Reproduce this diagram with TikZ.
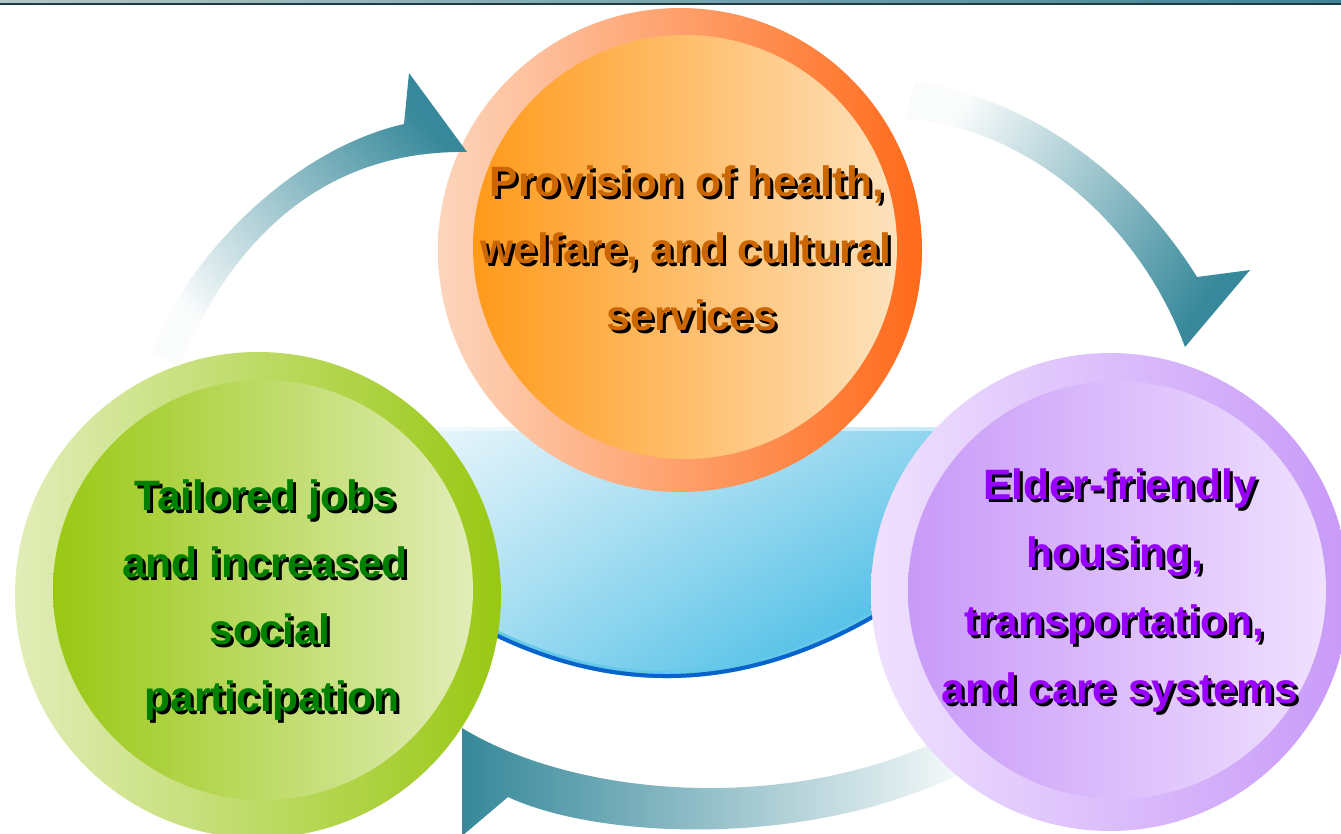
\documentclass[tikz,border=0pt]{standalone}
\usepackage{fontspec}
\setmainfont{Liberation Sans}
\usetikzlibrary{shadings}
\definecolor{arrowteal}{HTML}{36889A}
\definecolor{arrowpale}{HTML}{FAFCFC}
\definecolor{txtorange}{HTML}{CC6600}
\definecolor{txtgreen}{HTML}{008000}
\definecolor{txtpurple}{HTML}{9900FF}
\definecolor{grnlight}{HTML}{E2EDB8}
\definecolor{grndark}{HTML}{99C814}
\definecolor{orglight}{HTML}{FDD5BC}
\definecolor{orgdark}{HTML}{FF6A1A}
\definecolor{orginL}{HTML}{FF9A1A}
\definecolor{orginR}{HTML}{FDE2BD}
\definecolor{purlight}{HTML}{EFE1FE}
\definecolor{purdark}{HTML}{C89AF8}
\definecolor{bowlUL}{HTML}{EAF6FB}
\definecolor{bowlUR}{HTML}{8ED4EE}
\definecolor{bowlLL}{HTML}{9EDBF1}
\definecolor{bowlLR}{HTML}{22B0E0}
\definecolor{rimblue}{HTML}{0A62CC}
\definecolor{barlight}{HTML}{B3C6C8}
\definecolor{barteal}{HTML}{3F8394}
\definecolor{bardark}{HTML}{1F3A42}
\newcommand{\shtext}[5]{%
  \node[lbl, text=black] (#1s) at (#2+3,#3+3) {#5};
  \node[lbl, text=#4] (#1) at (#2,#3) {#5};}
\begin{document}
\begin{tikzpicture}[x=1pt,y=-1pt,
  lbl/.style={font=\fontsize{42.5}{50}\selectfont\bfseries, inner sep=0pt, outer sep=0pt, anchor=base},
  disc/.style={circle, draw=none, inner sep=0pt, outer sep=0pt, minimum size=#1},
  cycarrow/.style={top color=arrowteal, bottom color=arrowpale, draw=none}]
\useasboundingbox (0,0) rectangle (1341,833);
\clip (0,0) rectangle (1341,833);
\fill[white] (0,0) rectangle (1341,833);
% top bar
\shade[left color=barlight, right color=barteal] (0,0) rectangle (1341,2.5);
\fill[bardark] (0,2.5) rectangle (1341,5);
% bowl
\shade[upper left=bowlUL, upper right=bowlUR, lower left=bowlLL, lower right=bowlLR]
  (420,427) -- (950,427) -- (950,560) -- (920,589)
  .. controls (753,706) and (587,708) .. (420,593) -- cycle;
\begin{scope}
  \clip (420,427) -- (950,427) -- (950,560) -- (920,589)
  .. controls (753,706) and (587,708) .. (420,593) -- cycle;
  \draw[line width=14pt, bowlLR!70!white] (920,589) .. controls (753,706) and (587,708) .. (420,593);
  \draw[line width=8pt, rimblue] (920,589) .. controls (753,706) and (587,708) .. (420,593);
\end{scope}
\fill[white, opacity=0.5] (420,427) rectangle (950,431);
% bottom cycle arrow (its tail runs under the purple circle)
\shade[cycarrow, shading angle=90]
  (462,728) .. controls (580,800) and (800,815) .. (960,730)
  -- (975,766) .. controls (820,850) and (600,840) .. (508,797)
  -- (462,836) -- cycle;
% circles
\node[disc=486pt, left color=grnlight, right color=grndark] (gOut) at (258,595) {};
\node[disc=420pt, left color=grndark, right color=grnlight] (gIn) at (263,590) {};
\node[disc=484pt, left color=orglight, right color=orgdark] (oOut) at (680,250) {};
\node[disc=424pt, left color=orginL, right color=orginR] (oIn) at (685,247) {};
\node[disc=478pt, left color=purlight, right color=purdark] (pOut) at (1110,592) {};
\node[disc=418pt, left color=purdark, right color=purlight] (pIn) at (1117,590) {};
% texts
\shtext{o1}{687}{196}{txtorange}{Provision of health,}
\shtext{o2}{686}{263}{txtorange}{welfare, and cultural}
\shtext{o3}{692}{330}{txtorange}{services}
\shtext{g1}{265}{510}{txtgreen}{Tailored jobs}
\shtext{g2}{265}{577}{txtgreen}{and increased}
\shtext{g3}{270}{644}{txtgreen}{social}
\shtext{g4}{272}{711}{txtgreen}{participation}
\shtext{p1}{1120}{499}{txtpurple}{Elder-friendly}
\shtext{p2}{1115}{567}{txtpurple}{housing,}
\shtext{p3}{1114}{635}{txtpurple}{transportation,}
\shtext{p4}{1120}{703}{txtpurple}{and care systems}
% upper cycle arrows
\shade[cycarrow, shading angle=-49]
  (152,352) .. controls (185,260) and (290,150) .. (404,124)
  -- (409,73) -- (467,152)
  .. controls (340,150) and (240,220) .. (179,366) -- cycle;
\shade[cycarrow, shading angle=-123]
  (915,82) .. controls (1040,100) and (1140,185) .. (1197,277)
  -- (1250,270) -- (1185,347)
  .. controls (1140,225) and (1030,128) .. (905,118) -- cycle;
\end{tikzpicture}
\end{document}
